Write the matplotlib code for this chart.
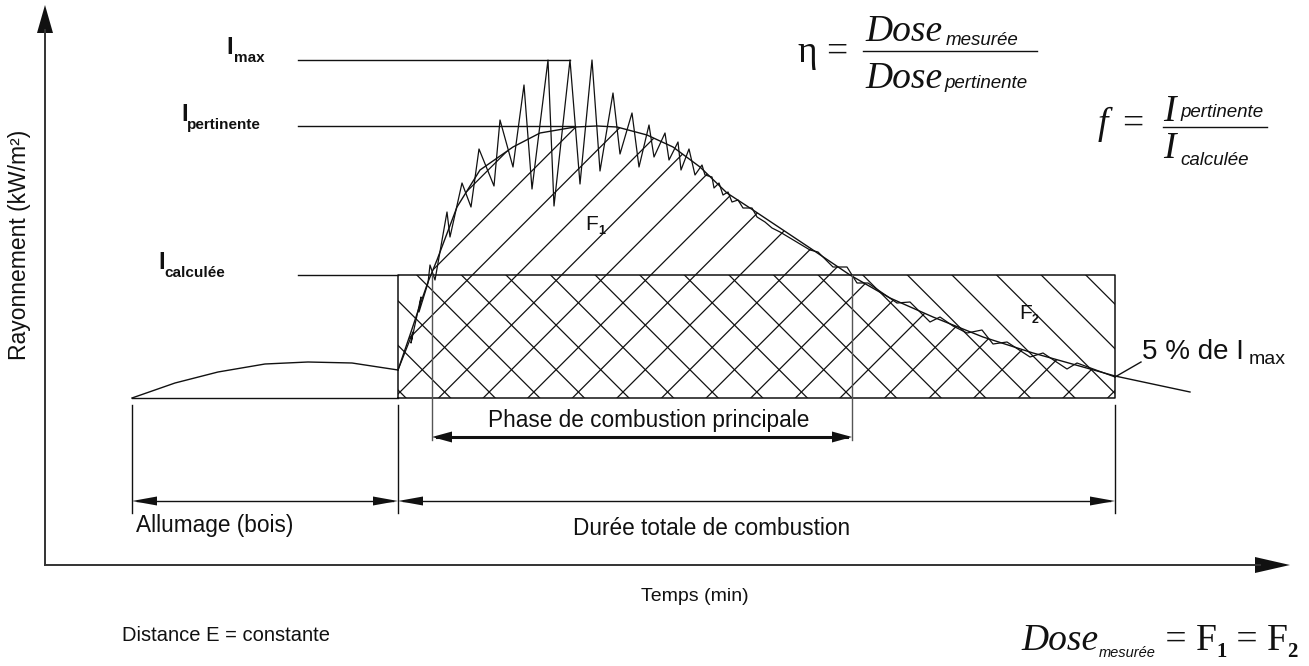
import matplotlib
matplotlib.use("Agg")
import matplotlib.pyplot as plt
import numpy as np
from matplotlib.patches import Polygon

# time runs along x, radiation intensity along y (schematic units)
ignition_t = [87, 130, 173, 220, 263, 307, 353]
ignition_i = [0, 15, 26, 34, 36, 35, 28]

# smoothed (relevant) radiation curve
smooth_t = [353, 365, 375, 383, 392, 412, 435, 468, 495, 530, 552, 572, 602, 628,
            655, 682, 708, 735, 765, 805, 845, 888, 938, 988, 1038, 1070, 1145]
smooth_i = [28, 63, 93, 116, 138, 191, 228, 251, 265, 271, 272, 271, 263, 251,
            231, 205, 188, 170, 150, 123, 100, 81, 61, 45, 31, 22, 6]

# measured radiation, with its oscillations
meas_t = [353, 368, 366, 376, 374, 383, 385, 390, 402, 405, 417, 426, 434, 449, 455,
          468, 479, 487, 503, 509, 525, 535, 547, 555, 568, 575, 587, 594, 604, 609,
          620, 624, 633, 636, 644, 650, 657, 660, 667, 669, 674, 678, 683, 687, 693,
          698, 707, 712, 720, 727, 735, 745, 765, 773, 788, 802, 812, 823, 852, 865,
          885, 895, 908, 922, 937, 948, 962, 985, 998, 1022, 1032, 1070]
meas_i = [28, 66, 55, 101, 86, 115, 133, 118, 186, 161, 215, 191, 249, 212, 278,
          231, 313, 209, 338, 192, 338, 214, 338, 227, 305, 244, 285, 231, 273, 241,
          265, 238, 256, 228, 249, 223, 233, 223, 221, 210, 215, 203, 206, 196, 198,
          190, 190, 181, 176, 170, 166, 160, 148, 146, 131, 131, 115, 115, 95, 96,
          76, 81, 72, 65, 68, 54, 56, 41, 45, 29, 35, 21]

# reference levels
i_max = 338
i_pert = 272
i_calc = 123

# phases
t_ign_start, t_ign_end = 87, 353
t_main_start, t_main_end = 387, 807
t_end = 1070

W, H = 1309, 666
fig = plt.figure(figsize=(W / 100, H / 100), dpi=100)
ax = fig.add_axes([0, 0, 1, 1])
ax.set_xlim(-45, W - 45)
ax.set_ylim(398 - H, 398)
ax.axis("off")

K = "#111111"
SANS = "Liberation Sans"
SERIF = "Liberation Serif"


def at(px, py):
    # layout helper: page position -> (time, intensity)
    return px - 45, 398 - py


def head(tip, direction, length, half_w, color=K):
    d = np.array(direction, float)
    d /= np.hypot(*d)
    n = np.array([-d[1], d[0]])
    tip = np.array(tip, float)
    base = tip - d * length
    ax.add_patch(Polygon([tip, base + n * half_w, base - n * half_w],
                         closed=True, color=color, lw=0))


def dim_arrow(t0, t1, y, lw=1.0, hl=25, hw=4.5):
    ax.plot([t0 + 5, t1 - 5], [y, y], color=K, lw=lw)
    head((t0, y), (-1, 0), hl, hw)
    head((t1, y), (1, 0), hl, hw)


# axes with arrows
ox, oy = at(45, 565)
ax.plot([ox, ox], [oy, at(45, 30)[1]], color="#333333", lw=1.4)
head(at(45, 5), (0, 1), 28, 8)
ax.plot([ox, at(1260, 565)[0]], [oy, oy], color="#333333", lw=1.4)
head(at(1290, 565), (1, 0), 35, 8)

# hatching: '/' under the smoothed curve, '\' in the calculated rectangle
mask = np.array(smooth_t) <= t_end
area_a = list(zip(np.array(smooth_t)[mask], np.array(smooth_i)[mask])) + [(t_end, 0), (t_ign_end, 0)]
clip_a = Polygon(area_a, closed=True, fc="none", ec="none")
clip_b = Polygon([(t_ign_end, 0), (t_end, 0), (t_end, i_calc), (t_ign_end, i_calc)],
                 closed=True, fc="none", ec="none")
ax.add_patch(clip_a)
ax.add_patch(clip_b)
tt = np.array([250, 1150])
spacing = 44.6
for n in range(-30, 30):
    l1, = ax.plot(tt, tt - 349 - spacing * n, color=K, lw=0.9)
    l1.set_clip_path(clip_a)
    l2, = ax.plot(tt, -tt + 361 - spacing * n, color=K, lw=0.9)
    l2.set_clip_path(clip_b)

# rectangle of the calculated intensity
ax.plot([t_ign_end, t_end, t_end, t_ign_end, t_ign_end],
        [0, 0, i_calc, i_calc, 0], color=K, lw=1.1)

# curves
ax.plot(ignition_t, ignition_i, color=K, lw=1.0)
ax.plot([t_ign_start, t_ign_end], [0, 0], color=K, lw=1.0)
ax.plot(smooth_t, smooth_i, color=K, lw=1.0)
ax.plot(meas_t, meas_i, color=K, lw=0.9)

# reference level lines
ax.plot([253, 525], [i_max, i_max], color=K, lw=1.0)
ax.plot([253, 530], [i_pert, i_pert], color=K, lw=1.0)
ax.plot([253, t_ign_end], [i_calc, i_calc], color=K, lw=1.0)

# extension lines and dimension arrows
for t in (t_ign_start, t_ign_end, t_end):
    ax.plot([t, t], [-7, -115], color=K, lw=1.0)
for t in (t_main_start, t_main_end):
    ax.plot([t, t], [i_calc, -42], color="#555555", lw=1.0)
dim_arrow(t_main_start, t_main_end, -39, lw=2.2, hl=20, hw=5.5)
dim_arrow(t_ign_start, t_ign_end, -103)
dim_arrow(t_ign_end, t_end, -103)


def put(px, py, s, size, family=SANS, style="normal", weight="normal", **kw):
    kw.setdefault("ha", "left")
    kw.setdefault("va", "baseline")
    return ax.text(*at(px, py), s, fontsize=size, family=family, style=style,
                   weight=weight, color=K, **kw)


put(649, 427, "Phase de combustion principale", 16.3, ha="center")
put(136, 532, "Allumage (bois)", 16.3)
put(712, 535, "Durée totale de combustion", 16.3, ha="center")
put(695, 601, "Temps (min)", 14, ha="center")
put(122, 641, "Distance E = constante", 14.5)
put(20, 245, "Rayonnement (kW/m²)", 16.5, rotation=90, ha="center", va="center")

# intensity labels
put(226, 54, "I", 17, weight="bold")
put(234, 62, "max", 11, weight="bold")
put(181, 121, "I", 17, weight="bold")
put(187, 129, "pertinente", 11, weight="bold")
put(158, 269, "I", 17, weight="bold")
put(164, 277, "calculée", 11, weight="bold")

# areas
put(585, 230, "F", 15)
put(598, 234, "1", 9, weight="bold")
put(1019, 319, "F", 15)
put(1032, 323, "2", 9, weight="bold")

# 5 % marker
ax.plot(*zip(at(1115, 377), at(1141, 362)), color=K, lw=1.0)
put(1142, 359, "5 % de I", 20)
put(1249, 364, "max", 14)

# formulas
put(798, 62, "η =", 27, family=SERIF)
put(865, 41, "Dose", 27, family=SERIF, style="italic")
put(946, 45, "mesurée", 13.5, style="italic")
ax.plot(*zip(at(863, 51), at(1037, 51)), color=K, lw=1.0)
put(865, 88, "Dose", 27, family=SERIF, style="italic")
put(944, 88, "pertinente", 13.5, style="italic")

put(1098, 134, "f", 27, family=SERIF, style="italic")
put(1122, 134, "=", 27, family=SERIF)
put(1163, 121, "I", 27, family=SERIF, style="italic")
put(1180, 117, "pertinente", 13.5, style="italic")
ax.plot(*zip(at(1163, 127), at(1267, 127)), color=K, lw=1.0)
put(1163, 158, "I", 27, family=SERIF, style="italic")
put(1180, 165, "calculée", 13.5, style="italic")

# Dose_mesurée = F1 = F2, right aligned
renderer = fig.canvas.get_renderer()
pieces = [("Dose", 27, SERIF, "italic", "normal", 0),
          ("mesurée", 10.5, SANS, "italic", "normal", 7),
          (" = F", 27, SERIF, "normal", "normal", 0),
          ("1", 15, SERIF, "normal", "bold", 7),
          (" = F", 27, SERIF, "normal", "normal", 0),
          ("2", 15, SERIF, "normal", "bold", 7)]
texts = [put(0, 650 + dy, s, sz, family=fam, style=st, weight=wt)
         for s, sz, fam, st, wt, dy in pieces]
widths = [t.get_window_extent(renderer).width for t in texts]
x = 1298 - sum(widths)
for t, w, p in zip(texts, widths, pieces):
    t.set_position(at(x, 650 + p[5]))
    x += w

fig.savefig("out.png", dpi=100)
